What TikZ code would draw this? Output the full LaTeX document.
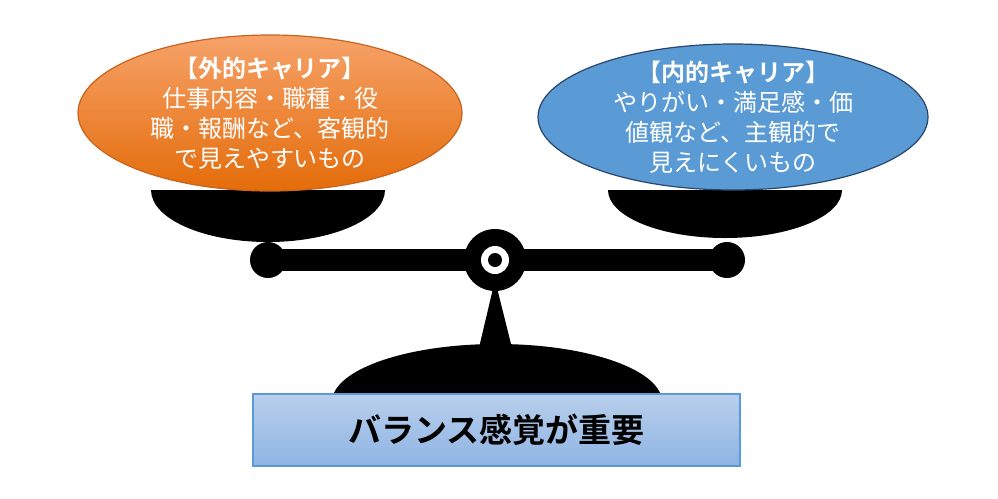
\documentclass[tikz,border=0pt]{standalone}
\usepackage{fontspec}
\setmainfont{Noto Sans CJK JP}
\newfontfamily\jpb{Noto Sans CJK JP Bold}
\usetikzlibrary{shapes.geometric}
\begin{document}
\begin{tikzpicture}[x=0.5pt,y=-0.5pt,
  txt/.style={text=white,align=center,font=\fontsize{12}{15}\selectfont},
  oval/.style={ellipse,inner sep=0,line width=0.6pt}]
\useasboundingbox (0,0) rectangle (998,499);
% bowls
\fill[black] (151,190) arc[start angle=180,end angle=0,x radius=117,y radius=52] -- cycle;
\fill[black] (608,190) arc[start angle=180,end angle=0,x radius=117,y radius=48] -- cycle;
% base dome
\fill[black] (332,402) arc[start angle=180,end angle=360,x radius=165,y radius=58] -- cycle;
% stand
\fill[black] (495,280) -- (478,352) -- (513,352) -- cycle;
% beam
\fill[black] (268,249) rectangle (727,271);
\fill[black] (268,260) circle[radius=18];
\fill[black] (727,260) circle[radius=18];
\node[circle,fill=black,minimum size=31pt,inner sep=0] (pivot) at (495,260) {};
\fill[white] (pivot) circle[radius=14];
\fill[black] (pivot) circle[radius=7];
% ellipses
\node[oval,draw={rgb,255:red,200;green,100;blue,30},top color={rgb,255:red,246;green,162;blue,105},bottom color={rgb,255:red,228;green,108;blue,10},minimum width=192pt,minimum height=78pt] (L) at (270,113) {};
\node[oval,draw={rgb,255:red,40;green,70;blue,110},fill={rgb,255:red,91;green,155;blue,213},minimum width=195pt,minimum height=73pt] (R) at (733,117) {};
\node[txt] at (L) {{\jpb 【外的キャリア】}\\仕事内容・職種・役\\職・報酬など、客観的\\で見えやすいもの};
\node[txt] at (R) {{\jpb 【内的キャリア】}\\やりがい・満足感・価\\値観など、主観的で\\見えにくいもの};
% box
\node[draw={rgb,255:red,91;green,155;blue,213},line width=0.6pt,top color={rgb,255:red,185;green,207;blue,236},bottom color={rgb,255:red,142;green,180;blue,227},minimum width=243.5pt,minimum height=36pt,inner sep=0,font=\jpb\fontsize{16.5}{18}\selectfont] (box) at (496.5,430) {バランス感覚が重要};
\end{tikzpicture}
\end{document}
